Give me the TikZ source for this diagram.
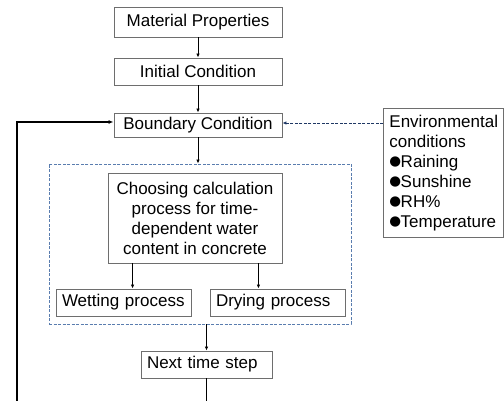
\documentclass[tikz,border=0pt]{standalone}
\usepackage{fontspec}
\setmainfont{Liberation Sans}
\newfontfamily\dotfont{DejaVu Sans}
\usetikzlibrary{arrows.meta}
\definecolor{boxgray}{RGB}{110,110,110}
\definecolor{grpblue}{RGB}{90,125,175}
\definecolor{envnavy}{RGB}{31,56,100}
\newcommand{\flowfont}{\fontsize{17}{20}\selectfont}
\newcommand{\envdot}{\raisebox{1.5pt}{\dotfont\fontsize{13.5}{20}\selectfont ●}\kern-0.5pt}
\tikzset{
  box/.style={draw=boxgray,line width=0.9pt,inner sep=0pt,font=\flowfont},
  leftbox/.style={box,align=left,inner xsep=6pt},
  group/.style={draw=grpblue,line width=0.9pt,dash pattern=on 3pt off 1.5pt,inner sep=0pt},
  arr/.style={line width=0.9pt,-{Latex[length=4pt,width=3.5pt]}},
  envarr/.style={draw=envnavy,line width=0.9pt,dash pattern=on 3pt off 1.5pt,-{Latex[length=4pt,width=3.5pt]}},
  feedback/.style={line width=1.8pt,-{Latex[length=5pt,width=4pt]}}
}
\begin{document}
\begin{tikzpicture}[x=1pt,y=-1pt]
  \useasboundingbox (0,0) rectangle (504,401);
  \clip (0,0) rectangle (504,401);
  % main column
  \node[box,minimum width=168pt,minimum height=30pt] (mat) at (198,22) {Material Properties};
  \node[box,minimum width=168pt,minimum height=27pt] (init) at (198,71.5) {Initial Condition};
  \node[box,minimum width=168pt,minimum height=24pt] (bound) at (198,125) {Boundary Condition};
  \node[box,anchor=north west,align=left,text width=108pt,inner xsep=6pt,minimum height=129pt] (env) at (383,108)
    {Environmental\\conditions\\\envdot Raining\\\envdot Sunshine\\\envdot RH\%\\\envdot Temperature};
  % calculation block
  \node[group,minimum width=302pt,minimum height=160pt] (grp) at (200,244) {};
  \node[box,align=center,minimum width=174pt,minimum height=90pt] (choose) at (195,218)
    {Choosing calculation\\process for time-\\dependent water\\content in concrete};
  \node[leftbox,text width=123pt,minimum height=27pt] (wet) at (123.5,302.5) {Wetting process};
  \node[leftbox,text width=123pt,minimum height=27pt] (dry) at (277.5,302.5) {Drying process};
  \node[leftbox,text width=119pt,minimum height=27pt] (next) at (206.5,364.5) {Next time step};
  % connectors
  \draw[arr] (mat) -- (init);
  \draw[arr] (init) -- (bound);
  \draw[envarr] ([yshift=2pt]bound.east -| env.west) -- ([yshift=2pt]bound.east);
  \draw[arr] (bound.south) -- (bound.south |- grp.north);
  \draw[arr] ([xshift=25pt]choose.south west) -- ([xshift=25pt]choose.south west |- wet.north);
  \draw[arr] ([xshift=-24pt]choose.south east) -- ([xshift=-24pt]choose.south east |- dry.north);
  \draw[arr] (next.north |- grp.south) -- (next.north);
  % loop back to the boundary condition
  \coordinate (loopbot) at (17,414);
  \draw[feedback] (next.south) |- (loopbot) |- ([yshift=3pt]bound.west);
\end{tikzpicture}
\end{document}
